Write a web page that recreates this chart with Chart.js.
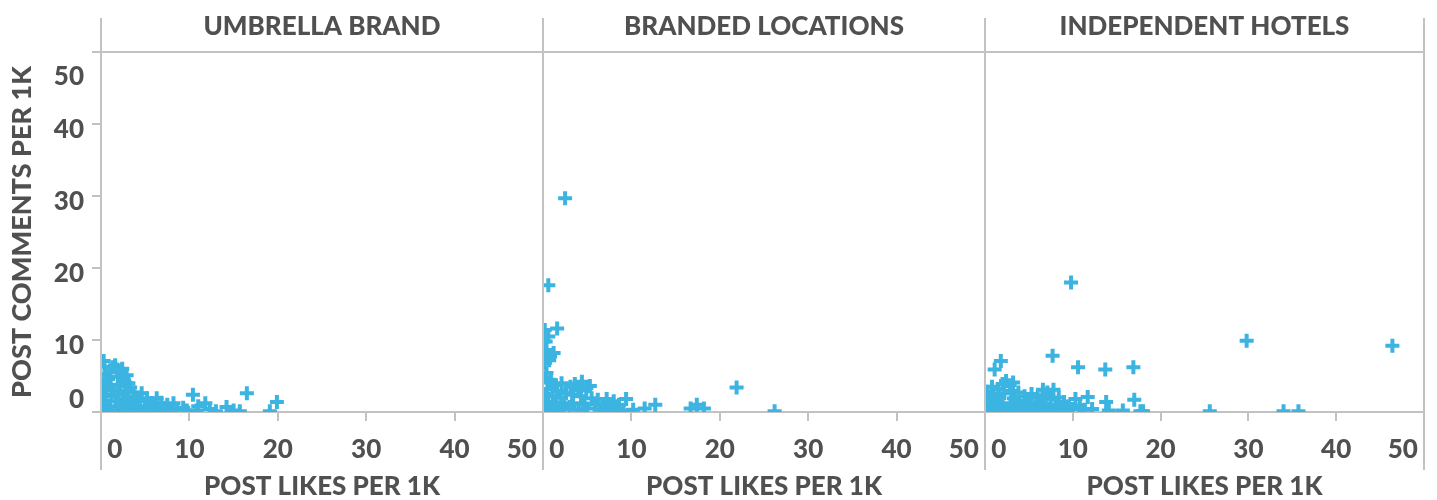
<!DOCTYPE html>
<html>
<head>
<meta charset="utf-8">
<script src="https://cdn.jsdelivr.net/npm/chart.js@4/dist/chart.umd.min.js"></script>
<style>
  html, body { margin: 0; padding: 0; background: #ffffff; }
  #wrap { position: relative; width: 1437px; height: 500px; }
  #wrap canvas { position: absolute; left: 0; top: 0; }
</style>
</head>
<body>
<div id="wrap">
  <canvas id="c1" width="1437" height="500"></canvas>
  <canvas id="c2" width="1437" height="500"></canvas>
  <canvas id="c3" width="1437" height="500"></canvas>
</div>
<script>
// ---------- data ----------
const panelTitles = ["UMBRELLA BRAND", "BRANDED LOCATIONS", "INDEPENDENT HOTELS"];
const xAxisTitle = "POST LIKES PER 1K";
const yAxisTitle = "POST COMMENTS PER 1K";
const xTickValues = [0, 10, 20, 30, 40, 50];
const yTickValues = [0, 10, 20, 30, 40, 50];

// [likes per 1K, comments per 1K]
const umbrellaBrand = [
  [0.3,7.1],[1.6,6.5],[2.9,5.1],[1.0,5.6],[2.1,5.6],[1.3,6.2],[2.4,6.0],[0.5,5.2],[0.8,4.6],[1.9,4.9],
  [2.6,4.4],[0.2,4.0],[1.1,3.8],[2.2,3.6],[3.3,3.4],[0.6,3.2],[1.5,3.0],[2.8,2.9],[3.7,2.7],[4.6,2.6],
  [0.3,2.4],[1.2,2.2],[2.0,2.5],[3.0,2.1],[4.0,2.0],[5.2,1.9],[6.3,1.9],[0.5,1.6],[1.7,1.5],[2.5,1.7],
  [3.5,1.4],[4.4,1.5],[5.6,1.2],[6.8,1.3],[7.5,1.0],[8.2,1.2],[0.2,0.9],[1.0,0.8],[2.2,0.9],[3.2,0.7],
  [4.2,0.8],[5.0,0.6],[6.0,0.7],[7.0,0.5],[8.6,0.4],[9.3,0.6],[9.7,0.2],[0.7,0.3],[1.8,0.2],[2.9,0.3],
  [3.9,0.2],[4.8,0.1],[5.8,0.3],[6.6,0.1],[7.8,0.2],[10.4,2.4],[11.8,1.2],[11.0,0.8],[10.8,0.2],[14.2,0.7],
  [15.0,0.2],[15.7,0.1],[16.5,2.6],[19.9,1.4],[19.1,0.1],[12.3,0.4],[13.0,0.1],[0.4,6.3],[1.8,5.9],[3.1,4.0]
];
const brandedLocations = [
  [2.5,29.7],[0.6,17.6],[1.6,11.6],[0.6,10.5],[0.2,11.4],[0.8,7.7],[0.4,8.6],[0.3,9.8],[0.7,7.2],[0.2,6.8],
  [0.4,5.4],[0.2,4.8],[0.9,4.4],[2.1,4.0],[3.1,3.5],[4.4,4.2],[4.9,3.3],[4.0,3.0],[3.6,3.9],[5.3,3.6],
  [1.3,3.8],[0.5,3.2],[1.6,2.9],[2.6,2.6],[3.4,2.4],[0.3,2.5],[1.1,2.2],[2.0,2.0],[4.3,2.2],[5.5,1.9],
  [6.2,1.7],[7.2,1.8],[8.0,1.5],[9.4,1.8],[0.6,1.4],[1.5,1.3],[2.4,1.1],[3.3,1.2],[4.7,1.0],[5.9,1.1],
  [6.8,0.9],[7.7,0.8],[8.6,1.0],[0.2,0.6],[1.2,0.5],[2.2,0.4],[3.0,0.7],[4.0,0.3],[5.0,0.5],[6.4,0.3],
  [7.3,0.2],[8.3,0.4],[9.1,0.2],[0.8,0.1],[1.8,0.2],[11.5,0.5],[12.7,1.0],[16.7,0.5],[17.4,1.0],[18.2,0.5],
  [21.9,3.4],[26.2,0.1],[10.2,0.3],[1.2,8.2],[0.3,7.6]
];
const independentHotels = [
  [9.8,18.0],[7.7,7.8],[10.6,6.2],[13.7,5.9],[16.9,6.2],[1.8,7.1],[1.1,5.9],[3.2,4.1],[2.8,3.7],[2.0,3.9],
  [2.4,4.3],[6.6,3.1],[7.8,3.1],[10.3,1.8],[11.7,2.1],[13.8,1.4],[17.0,1.7],[12.2,0.4],[15.7,0.2],[17.7,0.1],
  [25.6,0.1],[29.8,9.9],[46.4,9.2],[34.0,0.1],[35.7,0.1],[0.3,2.8],[1.0,2.5],[1.5,3.2],[0.6,1.9],[1.3,1.6],
  [2.2,2.6],[3.0,2.9],[3.8,2.7],[4.5,2.2],[5.3,2.5],[6.0,2.0],[6.9,2.3],[7.5,1.8],[8.4,2.0],[9.0,1.4],
  [0.2,1.0],[1.0,0.7],[2.0,1.2],[2.9,0.9],[3.6,1.4],[4.3,0.8],[5.1,1.1],[5.9,0.6],[6.7,1.0],[7.3,0.5],
  [8.0,0.9],[8.8,0.6],[9.5,0.8],[10.0,0.4],[10.8,0.9],[11.3,0.3],[0.5,0.3],[1.7,0.2],[2.6,0.4],[3.4,0.2],
  [4.1,0.3],[4.9,0.1],[5.6,0.3],[6.3,0.2],[7.0,0.1],[8.5,0.2],[9.2,0.1],[0.8,3.5],[1.6,2.1],[3.3,1.9],
  [4.7,1.6],[6.3,1.5],[7.1,2.7],[14.1,0.2],[18.0,0.1]
];
const panelData = [umbrellaBrand, brandedLocations, independentHotels];

// ---------- style ----------
const FONT = "Lato, 'Open Sans', 'DejaVu Sans', sans-serif";
const WEIGHT = '900';
const TEXT = "#505050";
const LINE = "#c2c2c2";
const MARK = "#3bb4e1";
const panelLeft = [101, 543, 985];
const panelRight = [543, 985, 1428];
const plotBottom = 412;

const frameExt = {
  id: 'frameExt',
  afterDraw(chart, args, opts) {
    const ctx = chart.ctx, a = chart.chartArea;
    ctx.save();
    ctx.strokeStyle = LINE;
    ctx.lineWidth = 2;
    const xs = [a.left];
    if (opts.right) xs.push(a.right);
    xs.forEach(x => {
      ctx.beginPath();
      ctx.moveTo(Math.round(x), 18);
      ctx.lineTo(Math.round(x), 470);
      ctx.stroke();
    });
    ctx.restore();
  }
};

function makeChart(id, i) {
  const first = i === 0, last = i === 2;
  const pts = panelData[i].map(p => ({x: p[0], y: p[1]}));
  return new Chart(document.getElementById(id), {
    type: 'scatter',
    data: { datasets: [{
      data: pts,
      pointStyle: 'cross',
      pointRadius: 7,
      pointHoverRadius: 7,
      pointBorderWidth: 4,
      borderColor: MARK,
      backgroundColor: MARK,
      clip: 0
    }]},
    plugins: [frameExt],
    options: {
      responsive: false,
      animation: false,
      events: [],
      layout: { padding: { left: first ? 0 : panelLeft[i], right: 1437 - panelRight[i], top: 0, bottom: 0 } },
      plugins: {
        legend: { display: false },
        tooltip: { enabled: false },
        frameExt: { right: last },
        title: {
          display: true, text: panelTitles[i], position: 'top', fullSize: false,
          color: TEXT, font: { family: FONT, size: 26, weight: WEIGHT, lineHeight: 1 },
          padding: { top: 13.5, bottom: 12.5 }
        }
      },
      scales: {
        x: {
          type: 'linear', min: 0, max: 50,
          afterBuildTicks: s => { s.ticks = xTickValues.map(v => ({value: v})); },
          afterFit: s => { s.height = 500 - plotBottom; },
          border: { display: true, color: LINE, width: 2 },
          grid: {
            drawOnChartArea: true, drawTicks: true, tickLength: 9,
            color: c => (last && c.tick && c.tick.value === 50) ? LINE : 'rgba(0,0,0,0)',
            tickColor: LINE, lineWidth: 2, tickWidth: 2
          },
          ticks: {
            autoSkip: false, maxRotation: 0,
            align: 'inner', padding: 13, color: TEXT,
            font: { family: FONT, size: 26, weight: WEIGHT, lineHeight: 1.2 },
            callback: (v) => v === 50 ? '50 ' : (v === 0 ? ' 0' : String(v))
          },
          title: {
            display: true, text: xAxisTitle, color: TEXT,
            font: { family: FONT, size: 26, weight: WEIGHT, lineHeight: 1 },
            padding: { top: 0, bottom: 0 }
          }
        },
        y: {
          type: 'linear', min: 0, max: 50,
          afterBuildTicks: s => { s.ticks = yTickValues.map(v => ({value: v})); },
          afterFit: s => { s.width = first ? panelLeft[0] : 0; },
          border: { display: true, color: LINE, width: 2 },
          grid: {
            drawOnChartArea: true, drawTicks: first, tickLength: 9,
            color: c => (c.tick && c.tick.value === 50) ? LINE : 'rgba(0,0,0,0)',
            tickColor: LINE, lineWidth: 2, tickWidth: 2
          },
          ticks: {
            autoSkip: false, labelOffset: 6,
            display: first, padding: 8, color: TEXT,
            font: { family: FONT, size: 26, weight: WEIGHT, lineHeight: 1.4 },
            callback: (v) => v === 0 ? ['0', ''] : (v === 50 ? ['', '50'] : String(v))
          },
          title: {
            display: first, text: yAxisTitle, color: TEXT,
            font: { family: FONT, size: 27, weight: WEIGHT, lineHeight: 1 },
            padding: { top: 8.5, bottom: 0 }
          }
        }
      }
    }
  });
}

makeChart('c1', 0);
makeChart('c2', 1);
makeChart('c3', 2);
</script>
</body>
</html>
